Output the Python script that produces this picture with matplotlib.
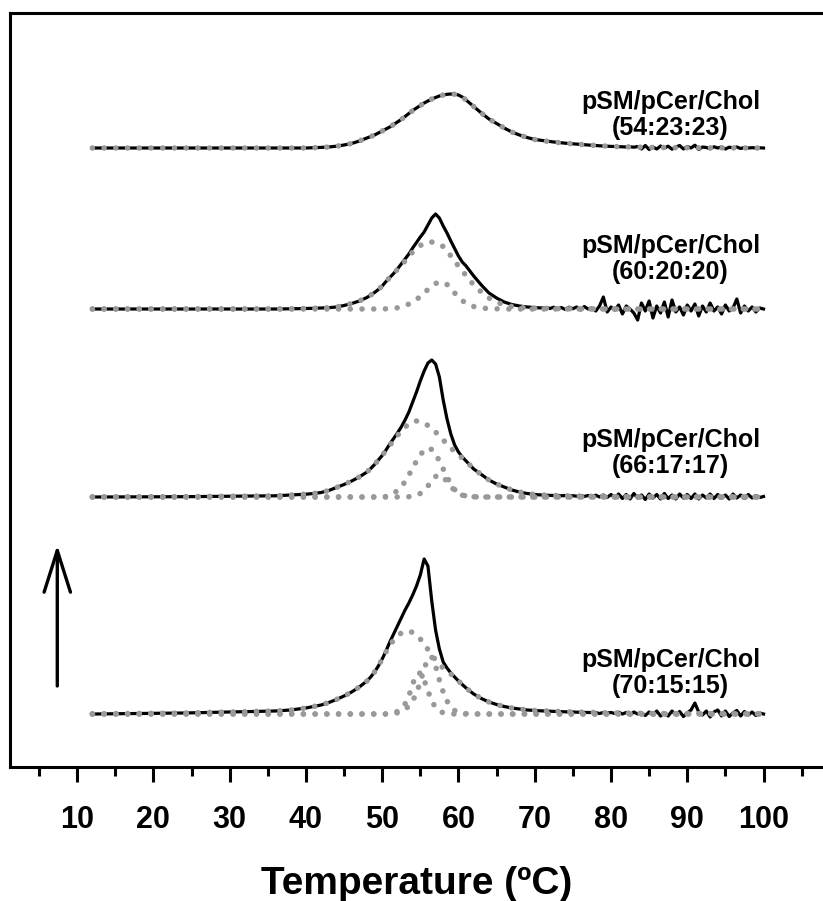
import numpy as np
import matplotlib
matplotlib.use("Agg")
import matplotlib.pyplot as plt

plt.rcParams["font.family"] = ["Liberation Sans", "DejaVu Sans"]

# Temperature sampling of the transition region (deg C)
TEMP = [12, 24, 36, 38,
        40, 41, 42, 43, 44, 45, 46, 47,
        48, 48.5, 49, 49.5, 50, 50.5, 51, 51.5, 52, 52.5,
        53, 53.5, 54, 54.5, 55, 55.5, 56, 56.5, 57, 57.5,
        58, 58.5, 59, 59.5, 60, 60.5, 61,
        62, 63, 64, 65, 66, 67, 68, 69, 70]
# High-temperature part of the scans (0.5 deg C steps)
TAIL_T = list(np.arange(70.5, 100.01, 0.5))
# High-temperature part of the fitted components
FIT_TAIL_T = [72, 74, 76, 78, 80, 85, 90, 100]

COMPOSITIONS = ["54:23:23", "60:20:20", "66:17:17", "70:15:15"]
OFFSETS = [619, 458, 270, 53]

# --- pSM/pCer/Chol 54:23:23 ---
dsc_54 = [0, 0, 0, 0,
          0, 0.3, 0.6, 1, 1.8, 3, 4.5, 7,
          10, 11.5, 13, 15, 17, 19, 21, 23.5, 26, 28.5,
          31.5, 34.5, 37.5, 40, 42.5, 45, 47, 49, 50.5, 52,
          53, 53.7, 54, 53.8, 53, 51, 48,
          41.5, 35, 29, 24.5, 20, 16, 13, 10.5, 8.5]
dsc_54_tail = [8, 7.5, 7, 6.5, 6, 5.6, 5.2, 4.8, 4.5, 4.2,
               3.9, 3.6, 3.3, 3, 2.7, 2.5, 2.2, 2, 1.8, 1.6,
               1.5, 1.3, 1.2, 1, 1.2, 0.8, 1.5, -1, 2.5, -1.5,
               1, -1, 2, 0, 1.8, -1.2, 1, 2.5, -1, 1.5,
               0, 2.8, -1.5, 1, 0.5, -0.8, 1.2, 0, 1, -1,
               0.8, 0.2, 1, -0.5, 0.5, 0, 0.3, 0, 0.2, 0]
fit_54 = [0, 0, 0, 0,
          0, 0.3, 0.6, 1, 1.8, 3, 4.5, 7,
          10, 11.5, 13, 15, 17, 19, 21, 23.5, 26, 28.5,
          31.5, 34.5, 37.5, 40, 42.5, 45, 47, 49, 50.5, 52,
          53, 53.7, 54, 53.8, 53, 51, 48,
          41.5, 35, 29, 24.5, 20, 16, 13, 10.5, 8.5]
fit_54_tail = [6.3, 4.8, 3.6, 2.5, 1.6, 0.6, 0.2, 0]

# --- pSM/pCer/Chol 60:20:20 ---
dsc_60 = [0, 0, 0, 0.2,
          0.5, 0.7, 1, 1.3, 2, 3.5, 5.5, 8,
          11.5, 14, 16.5, 19.5, 23, 27.5, 31.5, 35.5, 40, 45,
          50, 55, 61, 66.5, 72, 77, 84, 91, 95, 91,
          83, 76, 68, 60.5, 53, 47, 43,
          33, 24, 16, 11, 7, 4.5, 3, 2, 1.5]
dsc_60_tail = [1.2, 1, 1.5, 0.5, 1.8, 0, 1.5, -0.5, 1.8, 0.3,
               2, -1, 2.5, 0, 1, -2, 3, 12, -3, 2,
               -1, 4, -5, 3, 0, -4, -11, 6, -2, 8,
               -9, 3, -4, 7, -8, 9, -3, 2, -6, 4,
               -2, 5, -7, 3, -3, 6, -2, 2, -5, 4,
               -2, 1, 10, -4, 3, -2, 2, -3, 1, 0]
fit_60_a = [0, 0, 0, 0.2,
            0.5, 0.7, 1, 1.3, 2, 3.5, 5.5, 8,
            11.5, 14, 16.5, 19.5, 23, 27.5, 31.5, 35.5, 39.5, 43.5,
            48, 53, 57, 60.5, 63.5, 65.5, 67, 67, 66, 64.5,
            62.5, 58.5, 53, 48, 43, 38, 33.5,
            24, 17, 11, 7, 4, 2.5, 1.5, 1, 0.8]
fit_60_a_tail = [0.5, 0.3, 0.2, 0, 0, 0, 0, 0]
fit_60_b = [0, 0, 0, 0,
            0, 0, 0, 0, 0, 0, 0, 0,
            0, 0, 0, 0, 0, 0.2, 0.5, 0.8, 1.2, 2,
            3.3, 5, 7, 9.5, 12.5, 16, 19.5, 23, 25.5, 27,
            26.5, 24.5, 20.5, 16, 12, 8.5, 5.5,
            2.5, 1, 0.4, 0.2, 0, 0, 0, 0, 0]
fit_60_b_tail = [0, 0, 0, 0, 0, 0, 0, 0]

# --- pSM/pCer/Chol 66:17:17 ---
dsc_66 = [0, 0.3, 1.2, 2,
          2.8, 3.5, 4.5, 6.5, 9.5, 12.5, 16, 20,
          25, 28.5, 32.5, 37, 41.5, 47, 53, 58.5, 64, 70,
          77, 85, 95, 105, 116, 126, 134, 137, 133, 120,
          97, 78, 63, 52, 45, 40, 36,
          28, 22.5, 17, 13, 10, 7, 5, 3.5, 2.5]
dsc_66_tail = [2.2, 2, 1.8, 1.6, 1.5, 1.6, 1.2, 1.5, 1, 1.3,
               0.8, 1.5, 0.5, 1.5, 0.3, 1.8, 0, 2, -0.5, 2.5,
               -1, 3, -1.5, 2.5, -2, 3.5, -1, 2, -2.5, 3,
               -1, 2.5, -2, 3.5, -1.5, 2, -2, 3, -1, 2.5,
               -1.5, 3, -2, 2, -1, 3, -1.5, 2.5, -1, 2,
               -2, 3, -1, 2, -1.5, 2.5, -1, 1.5, -0.5, 0.5]
fit_66_a = [0, 0.3, 1.2, 2,
            2.8, 3.5, 4.5, 6.5, 9.5, 12.5, 16, 20,
            25, 28.5, 32.5, 37, 41.5, 46.5, 51.5, 56.5, 61.5, 66,
            70, 73, 75.5, 76, 75.5, 74, 71.5, 68.5, 65, 61,
            57, 53, 49, 45.5, 42, 39, 36,
            28, 22.5, 17, 13, 10, 7, 5, 3.5, 2.5]
fit_66_a_tail = [1.6, 1.2, 0.9, 0.6, 0.4, 0.2, 0, 0]
fit_66_b = [0, 0, 0, 0,
            0, 0, 0, 0, 0, 0, 0, 0,
            0, 0, 0, 0, 0, 0.5, 1.5, 3.5, 6.5, 10,
            15.5, 22, 29, 36, 42, 47, 49, 47.5, 43, 36,
            28, 20, 13, 7.5, 4, 2, 1,
            0.2, 0, 0, 0, 0, 0, 0, 0, 0]
fit_66_b_tail = [0, 0, 0, 0, 0, 0, 0, 0]
fit_66_c = [0, 0, 0, 0,
            0, 0, 0, 0, 0, 0, 0, 0,
            0, 0, 0, 0, 0, 0, 0, 0, 0, 0,
            0, 0.3, 0.8, 1.8, 3.5, 6.5, 11, 16, 20.5, 22,
            20, 15.5, 10.5, 6.5, 3.5, 1.8, 0.9,
            0.2, 0, 0, 0, 0, 0, 0, 0, 0]
fit_66_c_tail = [0, 0, 0, 0, 0, 0, 0, 0]

# --- pSM/pCer/Chol 70:15:15 ---
dsc_70 = [0, 1, 3, 4,
          6, 7.5, 9, 11.5, 14.5, 18, 22, 27,
          33, 37, 42, 48, 55, 63, 72, 80, 88, 96,
          104, 111, 119, 128, 139, 155, 148, 113, 84, 65,
          52, 46, 41, 37, 33, 29.5, 26,
          20, 15.5, 12, 9.5, 7.5, 6, 5, 4, 3.5]
dsc_70_tail = [3.3, 3.1, 3, 2.8, 2.6, 2.5, 2.3, 2.2, 2, 2,
               1.8, 1.8, 1.6, 1.5, 1.5, 1.3, 0.5, 1.5, 1, 1.5,
               0.5, 1.8, 0, 1.5, -1, 2, 0, 1, -1.5, 2,
               -1, 3, -2, 1, -2, 3, -1, 2.5, -2.5, 1,
               4, 11, 2, -1, 3, -3, 2, 4, -2, 3,
               -2.5, 1, 3.5, -2, 2.5, -1, 2, -1.5, 1, 0]
fit_70_a = [0, 1, 3, 4,
            6, 7.5, 9, 11.5, 14.5, 18, 22, 27,
            33, 37, 42, 48, 55, 62, 68.5, 74, 78, 81,
            82.5, 83, 81.5, 79, 75, 70, 64.5, 59, 54, 49.5,
            46, 43, 40, 37, 33, 29.5, 26,
            20, 15.5, 12, 9.5, 7.5, 6, 5, 4, 3.5]
fit_70_a_tail = [2.9, 2.3, 1.9, 1.5, 1.1, 0.6, 0.4, 0.2]
fit_70_b = [0, 0, 0, 0,
            0, 0, 0, 0, 0, 0, 0, 0,
            0, 0, 0, 0, 0, 0, 0, 0.5, 1.2, 2.5,
            4.5, 8, 13, 21, 32, 45, 56, 57, 48, 34,
            22, 13, 7, 3.5, 1.8, 0.8, 0.3,
            0, 0, 0, 0, 0, 0, 0, 0, 0]
fit_70_b_tail = [0, 0, 0, 0, 0, 0, 0, 0]
fit_70_c = [0, 0, 0, 0,
            0, 0, 0, 0, 0, 0, 0, 0,
            0, 0, 0, 0, 0, 0, 0.5, 1.2, 2.5, 5,
            10, 18, 30, 40, 41, 34, 23, 13, 6.5, 3,
            1.2, 0.5, 0.2, 0, 0, 0, 0,
            0, 0, 0, 0, 0, 0, 0, 0, 0]
fit_70_c_tail = [0, 0, 0, 0, 0, 0, 0, 0]

SCANS = [(dsc_54, dsc_54_tail), (dsc_60, dsc_60_tail),
         (dsc_66, dsc_66_tail), (dsc_70, dsc_70_tail)]
FITS = [
    [(fit_54, fit_54_tail)],
    [(fit_60_a, fit_60_a_tail), (fit_60_b, fit_60_b_tail)],
    [(fit_66_a, fit_66_a_tail), (fit_66_b, fit_66_b_tail), (fit_66_c, fit_66_c_tail)],
    [(fit_70_a, fit_70_a_tail), (fit_70_b, fit_70_b_tail), (fit_70_c, fit_70_c_tail)],
]
LABEL_Y = [652, 508, 314, 94]

W, H = 823, 901
fig = plt.figure(figsize=(W / 100, H / 100), dpi=100)
ax = fig.add_axes([10 / W, 134 / H, 1 - 10 / W, 754 / H])
ax.set_xlim(1.2, 107.8)
ax.set_ylim(0, 754)

fit_gray = "#999999"
for comp, off, (scan, scan_tail), fits, ly in zip(COMPOSITIONS, OFFSETS, SCANS, FITS, LABEL_Y):
    x_scan = TEMP + TAIL_T
    y_scan = np.array(scan + scan_tail) + off
    ax.plot(x_scan, y_scan, color="black", lw=2.3, solid_joinstyle="round", zorder=2)
    for fit, fit_tail in fits:
        ax.plot(TEMP + FIT_TAIL_T, np.array(fit + fit_tail) + off, color=fit_gray,
                lw=4.0, linestyle=(0, (0.01, 2.1)), dash_capstyle="round", zorder=3)
    ax.text(87.8, ly, "pSM/pCer/Chol\n(" + comp + ")", ha="center", va="center",
            multialignment="center", fontsize=18, fontweight="bold", linespacing=1.15)

# Direction of the heating scans
ax.annotate("", xy=(7.4, 222), xytext=(7.4, 81),
            arrowprops=dict(arrowstyle="->,head_length=3.0,head_width=0.95",
                            lw=2.4, color="black", shrinkA=0, shrinkB=0))

ax.set_xticks(range(10, 101, 10))
ax.set_xticks(range(5, 106, 10), minor=True)
ax.set_yticks([])
ax.tick_params(axis="x", which="major", direction="out", length=11, width=2.2, pad=16,
               labelsize=22)
ax.tick_params(axis="x", which="minor", direction="out", length=6.5, width=2.2)
for lab in ax.get_xticklabels():
    lab.set_fontweight("bold")
ax.set_xlabel("Temperature (\u00baC)", fontsize=28, fontweight="bold", labelpad=23)

for side in ("left", "top", "bottom"):
    ax.spines[side].set_linewidth(2.2)
ax.spines["right"].set_visible(False)

fig.savefig("out.png", dpi=100)
